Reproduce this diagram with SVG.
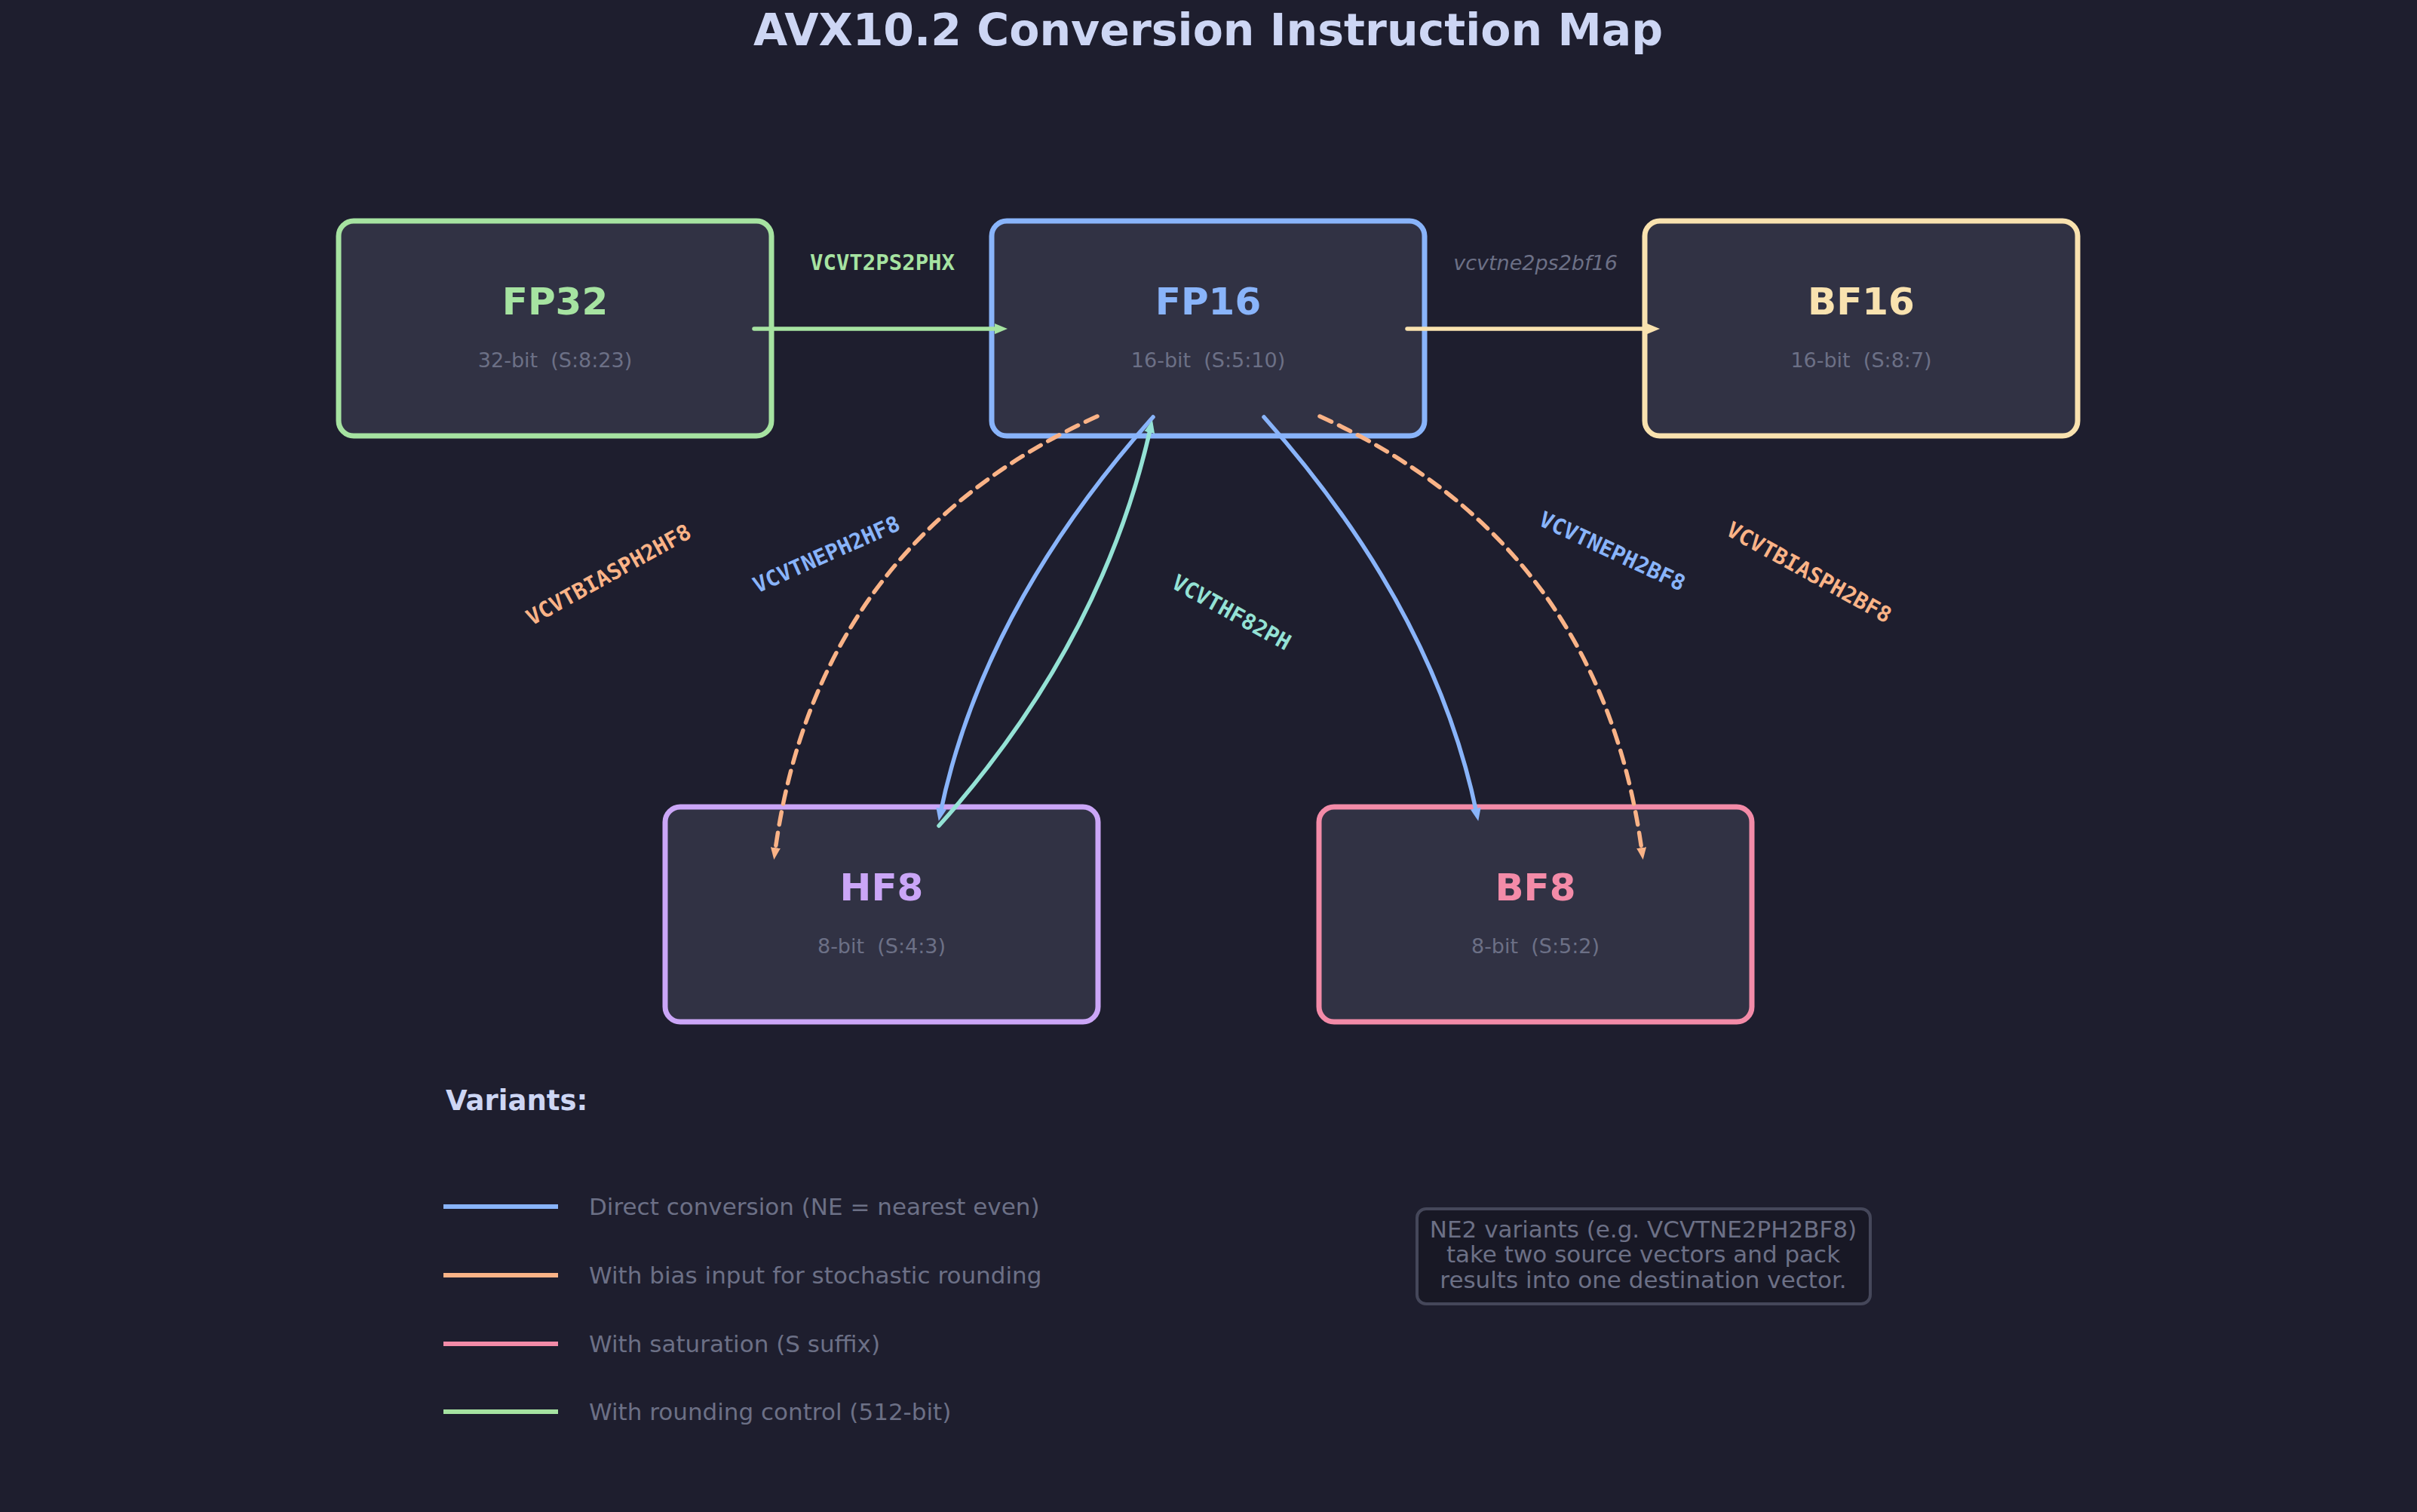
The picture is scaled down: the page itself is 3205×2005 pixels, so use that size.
<svg xmlns="http://www.w3.org/2000/svg" width="3205" height="2005" viewBox="0 0 3205 2005">
<defs>
<style>
.bg{fill:#1e1e2e}
.node{fill:#313244;stroke-width:7}
.name{font-family:"DejaVu Sans",sans-serif;font-weight:bold;font-size:50px;text-anchor:middle}
.sub{font-family:"DejaVu Sans",sans-serif;font-size:27px;fill:#6c7086;text-anchor:middle;white-space:pre}
.lbl{font-family:"DejaVu Sans Mono",monospace;font-weight:bold;font-size:29px;text-anchor:middle}
.edge{fill:none;stroke-width:5.5;stroke-linecap:round}
.dash{stroke-dasharray:17 11}
.leg{font-family:"DejaVu Sans",sans-serif;font-size:31px;fill:#6c7086}
.legline{stroke-width:6}
</style>
<marker id="ah-green" markerUnits="userSpaceOnUse" markerWidth="20" markerHeight="18" refX="7" refY="9" orient="auto"><path d="M0,2 L17,9 L0,16 z" fill="#a6e3a1"/></marker>
<marker id="ah-yellow" markerUnits="userSpaceOnUse" markerWidth="20" markerHeight="18" refX="7" refY="9" orient="auto"><path d="M0,2 L17,9 L0,16 z" fill="#f9e2af"/></marker>
<marker id="ah-blue" markerUnits="userSpaceOnUse" markerWidth="20" markerHeight="18" refX="7" refY="9" orient="auto"><path d="M0,2 L17,9 L0,16 z" fill="#89b4fa"/></marker>
<marker id="ah-peach" markerUnits="userSpaceOnUse" markerWidth="20" markerHeight="18" refX="7" refY="9" orient="auto"><path d="M0,2.5 L16,9 L0,15.5 z" fill="#fab387"/></marker>
<marker id="ah-teal" markerUnits="userSpaceOnUse" markerWidth="20" markerHeight="18" refX="7" refY="9" orient="auto"><path d="M0,2 L17,9 L0,16 z" fill="#94e2d5"/></marker>
</defs>
<rect class="bg" x="0" y="0" width="3205" height="2005"/>
<text x="1602" y="60" font-family="DejaVu Sans, sans-serif" font-weight="bold" font-size="58.5" fill="#cdd6f4" text-anchor="middle">AVX10.2 Conversion Instruction Map</text>

<g id="node-fp32">
<rect class="node" x="449" y="293" width="574" height="285" rx="20" stroke="#a6e3a1"/>
<text class="name" x="736" y="417" fill="#a6e3a1">FP32</text>
<text class="sub" x="736" y="487">32-bit  (S:8:23)</text>
</g>
<g id="node-fp16">
<rect class="node" x="1315" y="293" width="574" height="285" rx="20" stroke="#89b4fa"/>
<text class="name" x="1602" y="417" fill="#89b4fa">FP16</text>
<text class="sub" x="1602" y="487">16-bit  (S:5:10)</text>
</g>
<g id="node-bf16">
<rect class="node" x="2181" y="293" width="574" height="285" rx="20" stroke="#f9e2af"/>
<text class="name" x="2468" y="417" fill="#f9e2af">BF16</text>
<text class="sub" x="2468" y="487">16-bit  (S:8:7)</text>
</g>
<g id="node-hf8">
<rect class="node" x="882" y="1070" width="574" height="285" rx="20" stroke="#cba6f7"/>
<text class="name" x="1169" y="1194" fill="#cba6f7">HF8</text>
<text class="sub" x="1169" y="1264">8-bit  (S:4:3)</text>
</g>
<g id="node-bf8">
<rect class="node" x="1749" y="1070" width="574" height="285" rx="20" stroke="#f38ba8"/>
<text class="name" x="2036" y="1194" fill="#f38ba8">BF8</text>
<text class="sub" x="2036" y="1264">8-bit  (S:5:2)</text>
</g>

<g id="connectors">
<path class="edge" d="M1000,436 L1326,436" stroke="#a6e3a1" marker-end="url(#ah-green)"/>
<path class="edge" d="M1866,436 L2191,436" stroke="#f9e2af" marker-end="url(#ah-yellow)"/>
<path class="edge dash" d="M1455,552 Q1082,722 1027.5,1131" stroke="#fab387" marker-end="url(#ah-peach)"/>
<path class="edge" d="M1529,553 Q1303,807 1246.8,1079" stroke="#89b4fa" marker-end="url(#ah-blue)"/>
<path class="edge" d="M1245,1095 Q1462,852 1525.8,566.7" stroke="#94e2d5" marker-end="url(#ah-teal)"/>
<path class="edge" d="M1676,553 Q1902,807 1958.2,1079" stroke="#89b4fa" marker-end="url(#ah-blue)"/>
<path class="edge dash" d="M1750,552 Q2123,722 2177.5,1131" stroke="#fab387" marker-end="url(#ah-peach)"/>

<text class="lbl" x="1170" y="358" fill="#a6e3a1">VCVT2PS2PHX</text>
<text x="2036" y="358" font-family="DejaVu Sans, sans-serif" font-style="italic" font-size="27" fill="#6c7086" text-anchor="middle">vcvtne2ps2bf16</text>
<text class="lbl" transform="translate(807,762) rotate(-29)" x="0" y="10" fill="#fab387">VCVTBIASPH2HF8</text>
<text class="lbl" transform="translate(1096,735) rotate(-24)" x="0" y="10" fill="#89b4fa">VCVTNEPH2HF8</text>
<text class="lbl" transform="translate(1633,812) rotate(29)" x="0" y="10" fill="#94e2d5">VCVTHF82PH</text>
<text class="lbl" transform="translate(2138,731) rotate(25)" x="0" y="10" fill="#89b4fa">VCVTNEPH2BF8</text>
<text class="lbl" transform="translate(2399,759) rotate(29)" x="0" y="10" fill="#fab387">VCVTBIASPH2BF8</text>
</g>

<g id="legend">
<text x="591" y="1472" font-family="DejaVu Sans, sans-serif" font-weight="bold" font-size="37" fill="#cdd6f4">Variants:</text>
<line class="legline" x1="588" y1="1600" x2="740" y2="1600" stroke="#89b4fa"/>
<text class="leg" x="781" y="1611">Direct conversion (NE = nearest even)</text>
<line class="legline" x1="588" y1="1691" x2="740" y2="1691" stroke="#fab387"/>
<text class="leg" x="781" y="1702">With bias input for stochastic rounding</text>
<line class="legline" x1="588" y1="1782" x2="740" y2="1782" stroke="#f38ba8"/>
<text class="leg" x="781" y="1793">With saturation (S suffix)</text>
<line class="legline" x1="588" y1="1872" x2="740" y2="1872" stroke="#a6e3a1"/>
<text class="leg" x="781" y="1883">With rounding control (512-bit)</text>
</g>

<g id="note">
<rect x="1879" y="1603" width="601" height="126" rx="12" fill="#181825" stroke="#45475a" stroke-width="4"/>
<text class="leg" x="2179" y="1641" text-anchor="middle">NE2 variants (e.g. VCVTNE2PH2BF8)</text>
<text class="leg" x="2179" y="1674" text-anchor="middle">take two source vectors and pack</text>
<text class="leg" x="2179" y="1708" text-anchor="middle">results into one destination vector.</text>
</g>
</svg>
